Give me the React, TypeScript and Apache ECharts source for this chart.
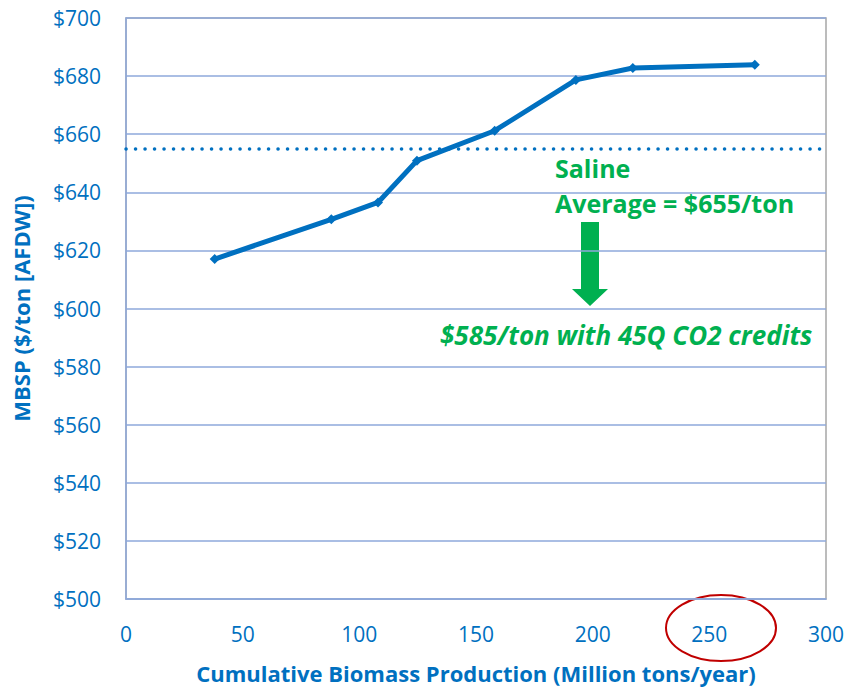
import React, { useEffect, useRef } from "react";
import * as echarts from "echarts";

// Cumulative biomass production (million tons/year) vs. minimum biomass selling price
const production = [38, 88, 108, 124.7, 158, 192.8, 217.2, 269.5];
const mbsp = [617, 630.7, 636.5, 650.9, 661.2, 678.7, 682.8, 683.9];
const salineAverage = 655;

const yTicks = { min: 500, max: 700, interval: 20 };
const xTicks = { min: 0, max: 300, interval: 50 };

const BLUE = "#0070C0";
const GREEN = "#00B050";
const GRID = "#8EA9DB";
const FONT = "'Open Sans', 'Noto Sans', sans-serif";

export default function App() {
  const ref = useRef<HTMLDivElement>(null);

  useEffect(() => {
    if (!ref.current) return;
    const chart = echarts.init(ref.current, undefined, { renderer: "svg" });
    chart.setOption({
      animation: false,
      backgroundColor: "#ffffff",
      textStyle: { fontFamily: FONT },
      grid: {
        left: 126,
        right: 22,
        top: 18,
        bottom: 88,
        show: true,
        borderColor: "#A6A6A6",
        borderWidth: 1.5,
      },
      xAxis: {
        type: "value",
        min: xTicks.min,
        max: xTicks.max,
        interval: xTicks.interval,
        name: "Cumulative Biomass Production (Million tons/year)",
        nameLocation: "middle",
        nameGap: 63,
        nameTextStyle: { color: BLUE, fontSize: 22, fontWeight: "bold", fontFamily: FONT },
        axisLine: { show: true, lineStyle: { color: GRID, width: 1.5 } },
        axisTick: { show: false },
        splitLine: { show: false },
        axisLabel: { color: BLUE, fontSize: 21, margin: 24, fontFamily: FONT },
      },
      yAxis: {
        type: "value",
        min: yTicks.min,
        max: yTicks.max,
        interval: yTicks.interval,
        name: "MBSP ($/ton [AFDW])",
        nameLocation: "middle",
        nameGap: 94,
        nameTextStyle: { color: BLUE, fontSize: 22, fontWeight: "bold", fontFamily: FONT },
        axisLine: { show: true, lineStyle: { color: GRID, width: 1.5 } },
        axisTick: { show: false },
        splitLine: { show: true, lineStyle: { color: GRID, width: 1.5 } },
        axisLabel: {
          color: BLUE,
          fontSize: 21,
          margin: 25,
          fontFamily: FONT,
          formatter: (v: number) => "$" + v,
        },
      },
      series: [
        {
          type: "line",
          data: production.map((x, i) => [x, mbsp[i]]),
          symbol: "diamond",
          symbolSize: 10,
          itemStyle: { color: BLUE },
          lineStyle: { color: BLUE, width: 5 },
          z: 3,
          markLine: {
            silent: true,
            symbol: "none",
            label: { show: false },
            lineStyle: { color: BLUE, width: 3.5, type: [0.1, 9.4], cap: "round" },
            data: [{ yAxis: salineAverage }],
          },
        },
      ],
      graphic: [
        {
          type: "text",
          x: 555,
          y: 168,
          style: {
            text: "Saline",
            fill: GREEN,
            font: `bold 25px ${FONT}`,
            verticalAlign: "middle",
          },
        },
        {
          type: "text",
          x: 555,
          y: 203,
          style: {
            text: "Average = $655/ton",
            fill: GREEN,
            font: `bold 25px ${FONT}`,
            verticalAlign: "middle",
          },
        },
        {
          type: "polygon",
          shape: {
            points: [
              [581, 222],
              [599, 222],
              [599, 289],
              [608, 289],
              [590, 306],
              [572, 289],
              [581, 289],
            ],
          },
          style: { fill: GREEN },
        },
        {
          type: "text",
          x: 440,
          y: 335,
          style: {
            text: "$585/ton with 45Q CO2 credits",
            fill: GREEN,
            font: `italic bold 26px ${FONT}`,
            verticalAlign: "middle",
          },
        },
        {
          type: "ellipse",
          shape: { cx: 721, cy: 628, rx: 55, ry: 33 },
          style: { fill: "none", stroke: "#C00000", lineWidth: 2 },
        },
      ],
    });
    return () => chart.dispose();
  }, []);

  return (
    <div
      ref={ref}
      style={{ position: "fixed", left: 0, top: 0, width: 848, height: 689 }}
    />
  );
}
